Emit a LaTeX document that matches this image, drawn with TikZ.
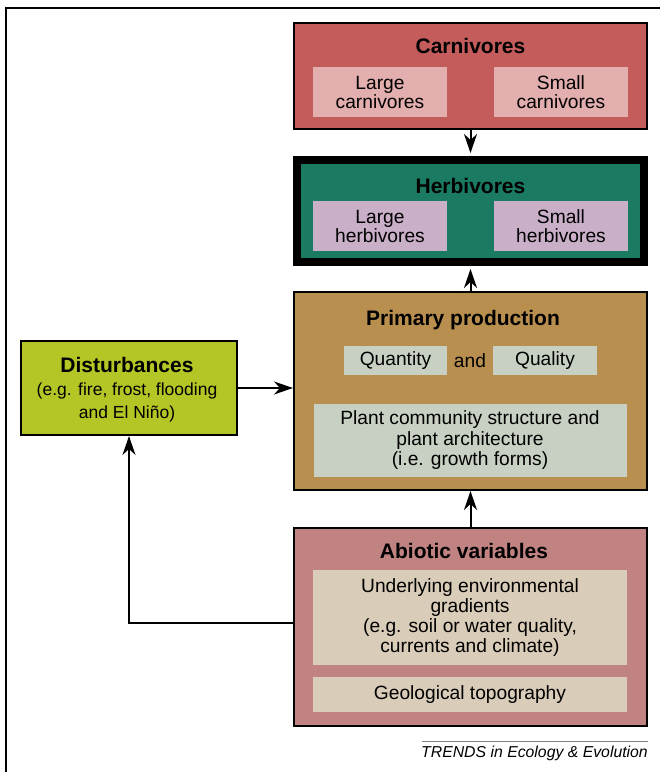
\documentclass[tikz,border=0pt]{standalone}
\usepackage{fontspec}
\setmainfont{Liberation Sans}
\usetikzlibrary{arrows.meta, positioning}
\definecolor{carnred}{RGB}{196,92,92}
\definecolor{carnpink}{RGB}{227,175,174}
\definecolor{herbteal}{RGB}{26,122,98}
\definecolor{herbmauve}{RGB}{201,175,200}
\definecolor{primtan}{RGB}{185,143,80}
\definecolor{primgrey}{RGB}{200,208,196}
\definecolor{distlime}{RGB}{180,198,38}
\definecolor{abiorose}{RGB}{192,131,130}
\definecolor{abiosand}{RGB}{217,204,184}

\begin{document}
\begin{tikzpicture}[x=1pt, y=-1pt,
  bigbox/.style={draw=black, line width=2pt, inner sep=0pt, minimum width=353pt, minimum height=198pt},
  subbox/.style={inner sep=0pt, align=center, font=\fontsize{19.2}{19}\selectfont},
  heading/.style={anchor=base, font=\fontsize{21}{24}\selectfont\bfseries},
  link/.style={-{Stealth[length=19pt, width=13pt, inset=6pt]}, line width=2pt}]
\useasboundingbox (0,0) rectangle (660,772);

% 枠
\draw[line width=1.5pt] (6,772) -- (6,8) -- (660,8);

% 肉食動物
\node[bigbox, fill=carnred, minimum height=106pt] (carn) at (470.5,76) {};
\node[heading] (carntitle) at (470.5,53) {Carnivores};
\node[subbox, fill=carnpink, minimum width=134pt, minimum height=50pt] (lcarn) at (380,92) {Large\\carnivores};
\node[subbox, fill=carnpink, minimum width=134pt, minimum height=50pt] (scarn) at (561,92) {Small\\carnivores};

% 草食動物
\node[bigbox, fill=herbteal, line width=8pt, minimum width=347pt, minimum height=102pt] (herb) at (470.5,211) {};
\node[heading] (herbtitle) at (470.5,193) {Herbivores};
\node[subbox, fill=herbmauve, minimum width=134pt, minimum height=50pt] (lherb) at (380,226) {Large\\herbivores};
\node[subbox, fill=herbmauve, minimum width=134pt, minimum height=50pt] (sherb) at (561,226) {Small\\herbivores};

% 一次生産
\node[bigbox, fill=primtan] (prim) at (470.5,391) {};
\node[heading] (primtitle) at (463,325) {Primary production};
\node[subbox, fill=primgrey, minimum width=103pt, minimum height=29pt] (quan) at (395.5,360.5) {Quantity};
\node[subbox] (and) at (470,360.5) {and};
\node[subbox, fill=primgrey, minimum width=104pt, minimum height=29pt] (qual) at (545,360.5) {Quality};
\node[subbox, fill=primgrey, minimum width=313pt, minimum height=73pt, font=\fontsize{19.2}{20.5}\selectfont] (plant) at (470,440.5) {Plant community structure and\\plant architecture\\(i.e. growth forms)};

% 攪乱
\node[bigbox, fill=distlime, minimum width=216pt, minimum height=94pt] (dist) at (129,388) {};
\node[heading] (disttitle) at (127,372) {Disturbances};
\node[subbox, font=\fontsize{17.5}{23}\selectfont] (distnote) at (127,402) {(e.g. fire, frost, flooding\\and El Niño)};

% 非生物的変数
\node[bigbox, fill=abiorose] (abio) at (470.5,627) {};
\node[heading] (abiotitle) at (464,558) {Abiotic variables};
\node[subbox, fill=abiosand, minimum width=314pt, minimum height=95pt, font=\fontsize{19.2}{20}\selectfont] (under) at (470,617.5) {Underlying environmental\\gradients\\(e.g. soil or water quality,\\currents and climate)};
\node[subbox, fill=abiosand, minimum width=314pt, minimum height=35pt] (geo) at (470,694.5) {Geological topography};

% 矢印
\draw[link, shorten >=3pt] (carn.south) -- (herb.north);
\draw[link, shorten >=3pt] (prim.north) -- (herb.south);
\draw[link] (abio.north) -- (prim.south);
\draw[link] (dist.east) -- (dist.east -| prim.west);
\draw[link] ([yshift=4pt]abio.west) -| (dist.south);

% 出典
\coordinate (footl) at (422,741);
\coordinate (footr) at (648,741);
\draw[gray, line width=1pt] (footl) -- (footr);
\node[anchor=base east, inner sep=0pt, font=\fontsize{15.8}{17}\selectfont\itshape] (credit) at (648,757) {TRENDS in Ecology \& Evolution};
\end{tikzpicture}
\end{document}
